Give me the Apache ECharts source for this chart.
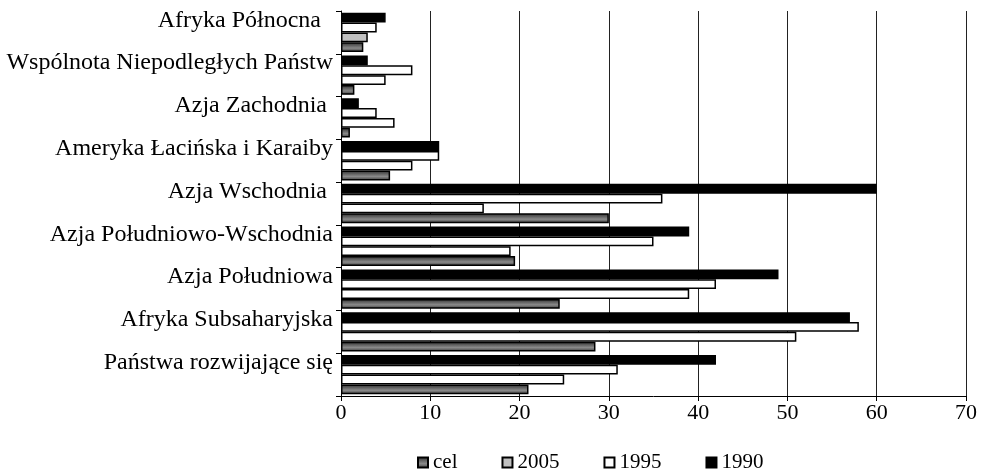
<!DOCTYPE html>
<html>
<head>
<meta charset="utf-8">
<script src="https://cdn.jsdelivr.net/npm/echarts@6/dist/echarts.min.js"></script>
<style>
  html, body { margin: 0; padding: 0; background: #fff; }
  #chart { width: 986px; height: 469px; }
</style>
</head>
<body>
<div id="chart"></div>
<script>
// kategorie od dołu do góry (oś kategorii rośnie w górę)
var regions = ['Państwa rozwijające się', 'Afryka Subsaharyjska', 'Azja Południowa', 'Azja Południowo-Wschodnia', 'Azja Wschodnia ', 'Ameryka Łacińska i Karaiby', 'Azja Zachodnia ', 'Wspólnota Niepodległych Państw', 'Afryka Północna  '];
var celData = [21, 28.5, 24.5, 19.5, 30, 5.5, 1, 1.5, 2.5];
var data2005 = [25, 51, 39, 19, 16, 8, 6, 5, 3];
var data1995 = [31, 58, 42, 35, 36, 11, 4, 8, 4];
var data1990 = [42, 57, 49, 39, 60, 11, 2, 3, 5];
var legendNames = ['cel', '2005', '1995', '1990'];
var xTicks = [0, 10, 20, 30, 40, 50, 60, 70];

var font = "'Liberation Serif', 'Times New Roman', serif";
var chart = echarts.init(document.getElementById('chart'));

var celFill = new echarts.graphic.LinearGradient(0, 0, 0, 1, [
  { offset: 0, color: '#2e2e2e' },
  { offset: 0.6, color: '#8a8a8a' },
  { offset: 1, color: '#3a3a3a' }
]);

// 2005: tylko Afryka Północna ma szare wypełnienie, reszta biała
var data2005Items = data2005.map(function(v, i) {
  return i === data2005.length - 1 ? v : { value: v, itemStyle: { color: '#ffffff' } };
});

function barStyle(color) {
  return { color: color, borderColor: '#000', borderWidth: 1.5 };
}

var option = {
  animation: false,
  backgroundColor: '#fff',
  grid: { left: 341, right: 20, top: 11, bottom: 73 },
  legend: {
    data: legendNames,
    left: 412,
    top: 447,
    itemWidth: 10,
    itemHeight: 10,
    itemGap: 44,
    icon: 'rect',
    textStyle: { fontFamily: font, fontSize: 21, color: '#000' }
  },
  xAxis: {
    type: 'value',
    min: xTicks[0],
    max: xTicks[xTicks.length - 1],
    interval: 10,
    axisLine: { show: true, lineStyle: { color: '#000', width: 1 } },
    axisTick: { show: true, length: 5, lineStyle: { color: '#000' } },
    axisLabel: { fontFamily: font, fontSize: 22, color: '#000', margin: 6 },
    splitLine: { show: true, lineStyle: { color: '#222', width: 1 } }
  },
  yAxis: {
    type: 'category',
    data: regions,
    axisLine: { show: true, lineStyle: { color: '#000', width: 1 } },
    axisTick: { show: true, length: 5, lineStyle: { color: '#000' } },
    axisLabel: { fontFamily: font, fontSize: 24, color: '#000', margin: 8, verticalAlign: 'bottom', lineHeight: 24 },
    splitLine: { show: false }
  },
  series: [
    { name: '1990', type: 'bar', data: data1990, itemStyle: barStyle('#000'), barGap: '0%', barCategoryGap: '8%' },
    { name: '1995', type: 'bar', data: data1995, itemStyle: barStyle('#fff') },
    { name: '2005', type: 'bar', data: data2005Items, itemStyle: barStyle('#c0c0c0') },
    { name: 'cel', type: 'bar', data: celData, itemStyle: barStyle(celFill) }
  ]
};

chart.setOption(option);
</script>
</body>
</html>
